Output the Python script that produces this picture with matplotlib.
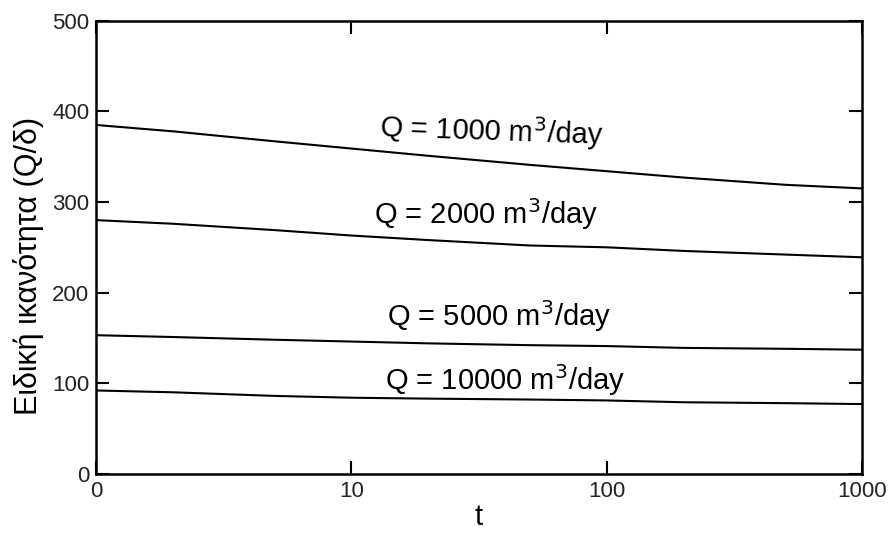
import matplotlib.pyplot as plt
import numpy as np

plt.rcParams['font.family'] = ['Liberation Sans', 'DejaVu Sans']

# time axis (the first point sits at the left edge, labelled "0")
t = [1, 2, 5, 10, 20, 50, 100, 200, 500, 1000]

# specific capacity for each pumping rate
q1000 = [385, 378, 367, 359, 351, 341, 334, 327, 319, 315]
q2000 = [280, 276, 269, 263, 258, 252, 250, 246, 242, 239]
q5000 = [153, 151, 148, 146, 144, 142, 141, 139, 138, 137]
q10000 = [92, 90, 86, 84, 83, 82, 81, 79, 78, 77]

xticks = [1, 10, 100, 1000]
xticklabels = ['0', '10', '100', '1000']
yticks = [0, 100, 200, 300, 400, 500]

labels = ['Q = 1000 m$^3$/day', 'Q = 2000 m$^3$/day',
          'Q = 5000 m$^3$/day', 'Q = 10000 m$^3$/day']

fig = plt.figure(figsize=(8.9, 5.33), dpi=100)
ax = fig.add_axes([0.108, 0.111, 0.8605, 0.85])

for y in [q1000, q2000, q5000, q10000]:
    ax.plot(t, y, color='black', linewidth=1.5)

ax.set_xscale('log')
ax.set_xlim(1, 1000)
ax.set_ylim(0, 500)
ax.set_xticks(xticks)
ax.set_xticklabels(xticklabels)
ax.minorticks_off()
ax.set_yticks(yticks)

ax.tick_params(direction='in', length=9.5, width=1.5, labelsize=16,
               top=True, right=True, pad=5, labelcolor='#222222')
for s in ax.spines.values():
    s.set_linewidth(1.8)

# curve labels, anchored on their baselines (axes fractions)
pos = [(0.516, 0.735, -2), (0.509, 0.552, 0), (0.526, 0.327, 0), (0.534, 0.185, 0)]
for (x, y, r), lab in zip(pos, labels):
    ax.text(x, y, lab, fontsize=21, ha='center', va='baseline',
            rotation=r, rotation_mode='anchor', transform=ax.transAxes)

ax.set_ylabel('Ειδική ικανότητα (Q/δ)', fontsize=22, labelpad=6)
ax.yaxis.label.set_y(0.459)
ax.set_xlabel('t', fontsize=21, labelpad=1)

fig.savefig('out.png', dpi=100)
